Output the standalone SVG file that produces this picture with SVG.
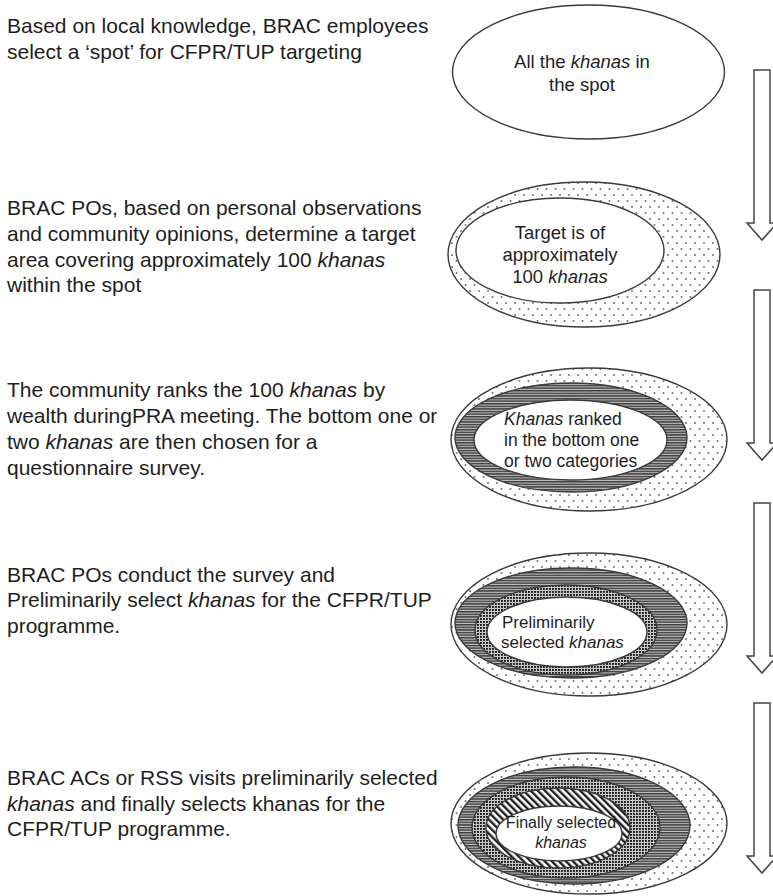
<svg xmlns="http://www.w3.org/2000/svg" width="773" height="896" viewBox="0 0 773 896">
<style>
.lt{font-family:"Liberation Sans",Arial,sans-serif;font-size:21px;fill:#1e1e1e}
.et{font-family:"Liberation Sans",Arial,sans-serif;fill:#1e1e1e}
.i{font-style:italic}
.ring{stroke:#3a3a3a;stroke-width:1.4}
.arrow{fill:#fff;stroke:#444;stroke-width:1.5;stroke-linejoin:miter}
</style>
<defs>
<pattern id="dots" width="9" height="12" patternUnits="userSpaceOnUse">
<rect width="9" height="12" fill="#fff"/>
<circle cx="2" cy="3" r="1" fill="#707070"/>
<circle cx="6.5" cy="9" r="1" fill="#707070"/>
</pattern>
<pattern id="hlines" width="4" height="2.6" patternUnits="userSpaceOnUse">
<rect width="4" height="2.6" fill="#c4c4c4"/>
<rect width="4" height="1.5" fill="#3e3e3e"/>
</pattern>
<pattern id="checker" width="3" height="3" patternUnits="userSpaceOnUse">
<rect width="3" height="3" fill="#c8c8c8"/>
<rect width="1.9" height="1.9" fill="#1a1a1a"/>
</pattern>
<pattern id="diag" width="5" height="5" patternUnits="userSpaceOnUse" patternTransform="rotate(-45)">
<rect width="5" height="5" fill="#fff"/>
<rect width="2.4" height="5" fill="#1e1e1e"/>
</pattern>
</defs>

<g id="step1-text">
<text class="lt" x="7" y="33">Based on local knowledge, BRAC employees</text>
<text class="lt" x="7" y="59">select a ‘spot’ for CFPR/TUP targeting</text>
</g>
<g id="step2-text">
<text class="lt" x="7" y="215">BRAC POs, based on personal observations</text>
<text class="lt" x="7" y="241">and community opinions, determine a target</text>
<text class="lt" x="7" y="267">area covering approximately 100 <tspan class="i">khanas</tspan></text>
<text class="lt" x="7" y="292">within the spot</text>
</g>
<g id="step3-text">
<text class="lt" x="7" y="397">The community ranks the 100 <tspan class="i">khanas</tspan> by</text>
<text class="lt" x="7" y="423">wealth duringPRA meeting. The bottom one or</text>
<text class="lt" x="7" y="449">two <tspan class="i">khanas</tspan> are then chosen for a</text>
<text class="lt" x="7" y="475">questionnaire survey.</text>
</g>
<g id="step4-text">
<text class="lt" x="7" y="582">BRAC POs conduct the survey and</text>
<text class="lt" x="7" y="607">Preliminarily select <tspan class="i">khanas</tspan> for the CFPR/TUP</text>
<text class="lt" x="7" y="633">programme.</text>
</g>
<g id="step5-text">
<text class="lt" x="7" y="785">BRAC ACs or RSS visits preliminarily selected</text>
<text class="lt" x="7" y="811"><tspan class="i">khanas</tspan> and finally selects khanas for the</text>
<text class="lt" x="7" y="836">CFPR/TUP programme.</text>
</g>

<g id="stage1">
<ellipse class="ring" cx="588.5" cy="72" rx="136" ry="67" fill="#fff"/>
<text class="et" x="582" y="68" font-size="18.5" text-anchor="middle">All the <tspan class="i">khanas</tspan> in</text>
<text class="et" x="582" y="91" font-size="18.5" text-anchor="middle">the spot</text>
</g>

<g id="stage2">
<ellipse class="ring" cx="584" cy="254.5" rx="136" ry="72.5" fill="url(#dots)"/>
<ellipse class="ring" cx="560" cy="250.5" rx="104" ry="52.5" fill="#fff"/>
<text class="et" x="560" y="239" font-size="18.5" text-anchor="middle">Target is of</text>
<text class="et" x="560" y="261" font-size="18.5" text-anchor="middle">approximately</text>
<text class="et" x="560" y="283" font-size="18.5" text-anchor="middle">100 <tspan class="i">khanas</tspan></text>
</g>

<g id="stage3">
<ellipse class="ring" cx="589" cy="439.5" rx="138" ry="71.5" fill="url(#dots)"/>
<ellipse class="ring" cx="571" cy="437.5" rx="116" ry="54.5" fill="url(#hlines)"/>
<ellipse class="ring" cx="570.5" cy="440" rx="96.5" ry="40" fill="#fff"/>
<text class="et" x="504" y="425" font-size="17.5"><tspan class="i">Khanas</tspan> ranked</text>
<text class="et" x="504" y="446" font-size="17.5">in the bottom one</text>
<text class="et" x="504" y="467" font-size="17.5">or two categories</text>
</g>

<g id="stage4">
<ellipse class="ring" cx="589" cy="624.5" rx="138" ry="71.5" fill="url(#dots)"/>
<ellipse class="ring" cx="571" cy="623" rx="116" ry="55" fill="url(#hlines)"/>
<ellipse class="ring" cx="566" cy="630" rx="91" ry="45" fill="url(#checker)"/>
<ellipse class="ring" cx="567" cy="632" rx="80" ry="35" fill="#fff"/>
<text class="et" x="502" y="628" font-size="17">Preliminarily</text>
<text class="et" x="501" y="648" font-size="17">selected <tspan class="i">khanas</tspan></text>
</g>

<g id="stage5">
<ellipse class="ring" cx="589" cy="823.5" rx="138" ry="70.5" fill="url(#dots)"/>
<ellipse class="ring" cx="574" cy="825.5" rx="116" ry="58.5" fill="url(#hlines)"/>
<ellipse class="ring" cx="566" cy="827.5" rx="94" ry="50.5" fill="url(#checker)"/>
<ellipse class="ring" cx="558" cy="828" rx="72" ry="40" fill="url(#diag)"/>
<ellipse class="ring" cx="559" cy="833.5" rx="63" ry="27.5" fill="#fff"/>
<text class="et" x="561" y="828" font-size="16" text-anchor="middle">Finally selected</text>
<text class="et" x="561" y="848" font-size="16" text-anchor="middle"><tspan class="i">khanas</tspan></text>
</g>

<g id="connectors">
<polygon class="arrow" points="754,70 770,70 770,223 777,223 762,240 747,223 754,223"/>
<polygon class="arrow" points="754,290 770,290 770,443 777,443 762,460 747,443 754,443"/>
<polygon class="arrow" points="754,503 770,503 770,656 777,656 762,673 747,656 754,656"/>
<polygon class="arrow" points="754,703 770,703 770,856 777,856 762,873 747,856 754,856"/>
</g>
</svg>
